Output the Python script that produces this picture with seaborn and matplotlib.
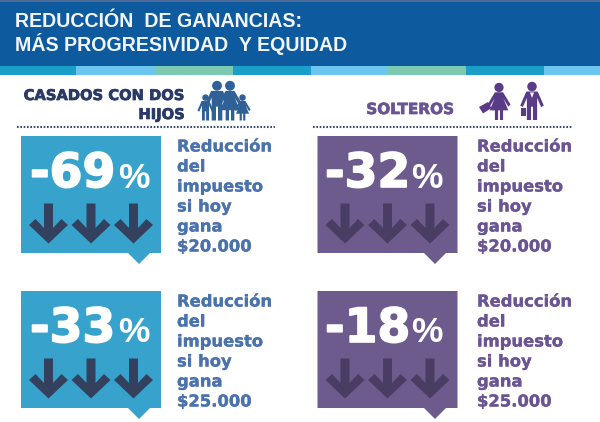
import numpy as np
import pandas as pd
import matplotlib
matplotlib.use("Agg")
import matplotlib.pyplot as plt
import matplotlib.patheffects as pe
import seaborn as sb
from matplotlib.path import Path
from matplotlib.patches import Polygon, Circle, Rectangle

# chart values
groups = ["CASADOS CON DOS\nHIJOS", "SOLTEROS"]
reductions_casados = [-69, -33]
reductions_solteros = [-32, -18]
incomes = ["$20.000", "$25.000"]
title_lines = ["REDUCCIÓN  DE GANANCIAS:", "MÁS PROGRESIVIDAD  Y EQUIDAD"]
desc_lines = ["Reducción", "del", "impuesto", "si hoy", "gana"]

HEADER = "#0d5a9f"
STRIPES = ["#1b9fc8", "#6cc5ee", "#7cc9b2"]
BLUE_CARD = "#37a3cc"
BLUE_ARROW = "#33415f"
BLUE_TEXT = "#4a72ad"
BLUE_ICON = "#2f6197"
PURPLE_CARD = "#6c5b8c"
PURPLE_ARROW = "#4a3d63"
PURPLE_TEXT = "#6b5493"
PURPLE_ICON = "#5a3c86"
DARK = "#2a3a66"

sb.set_theme(style="white")
fig = plt.figure(figsize=(6, 4.22), dpi=100)
ax = fig.add_axes([0, 0, 1, 1])
ax.set_xlim(0, 600)
ax.set_ylim(422, 0)
ax.axis("off")

TITLE_FONT = "Liberation Sans"
WIDE_FONT = "DejaVu Sans"


def heavy(color, width=0.5):
    return [pe.withStroke(linewidth=width, foreground=color)]


# header band and the coloured stripe under it
ax.add_patch(Rectangle((0, 0), 600, 67, color=HEADER, lw=0))
ax.add_patch(Rectangle((0, 0), 600, 2, color="#4c6b96", lw=0))
edges = [0, 76, 155, 233, 311, 388, 466, 544, 600]
for i in range(len(edges) - 1):
    ax.add_patch(Rectangle((edges[i], 66), edges[i + 1] - edges[i], 9, color=STRIPES[i % 3], lw=0))
for i, line in enumerate(title_lines):
    ax.text(15, 27 + i * 24, line, color="#f2f6fa", fontsize=14.1, family=TITLE_FONT,
            fontweight="bold", va="baseline")

# group headings
first, second = groups[0].split("\n")
ax.text(185, 100, first, color=DARK, fontsize=10.6, family=WIDE_FONT, fontweight="bold",
        ha="right", va="baseline", path_effects=heavy(DARK))
ax.text(185, 119, second, color=DARK, fontsize=10.6, family=WIDE_FONT, fontweight="bold",
        ha="right", va="baseline", path_effects=heavy(DARK))
ax.text(454, 114, groups[1], color=PURPLE_TEXT, fontsize=11, family=WIDE_FONT, fontweight="bold",
        ha="right", va="baseline", path_effects=heavy(PURPLE_TEXT))
ax.plot([17, 275], [127, 127], color="#3b4a6e", lw=1.5, ls=(0, (0.8, 0.8)))
ax.plot([313, 572], [127, 127], color="#3b4a6e", lw=1.5, ls=(0, (0.8, 0.8)))


# icons
def person(cx, top, h, color, dress=False):
    w = h * 0.5
    ax.add_patch(Circle((cx, top + h * 0.12), h * 0.125, color=color, lw=0))
    if dress:
        pts = [(cx - w * 0.22, top + h * 0.25), (cx + w * 0.22, top + h * 0.25),
               (cx + w * 0.62, top + h * 0.58), (cx + w * 0.5, top + h * 0.64),
               (cx + w * 0.24, top + h * 0.42), (cx + w * 0.5, top + h * 0.74),
               (cx + w * 0.22, top + h * 0.74), (cx + w * 0.22, top + h),
               (cx + w * 0.05, top + h), (cx + w * 0.05, top + h * 0.74),
               (cx - w * 0.05, top + h * 0.74), (cx - w * 0.05, top + h),
               (cx - w * 0.22, top + h), (cx - w * 0.22, top + h * 0.74),
               (cx - w * 0.5, top + h * 0.74), (cx - w * 0.24, top + h * 0.42),
               (cx - w * 0.5, top + h * 0.64), (cx - w * 0.62, top + h * 0.58)]
    else:
        pts = [(cx - w * 0.3, top + h * 0.25), (cx + w * 0.3, top + h * 0.25),
               (cx + w * 0.62, top + h * 0.62), (cx + w * 0.48, top + h * 0.66),
               (cx + w * 0.27, top + h * 0.42), (cx + w * 0.27, top + h),
               (cx + w * 0.05, top + h), (cx + w * 0.05, top + h * 0.65),
               (cx - w * 0.05, top + h * 0.65), (cx - w * 0.05, top + h),
               (cx - w * 0.27, top + h), (cx - w * 0.27, top + h * 0.42),
               (cx - w * 0.48, top + h * 0.66), (cx - w * 0.62, top + h * 0.62)]
    ax.add_patch(Polygon(pts, closed=True, color=color, lw=0))


person(205.5, 94.5, 26, BLUE_ICON)
person(217, 81, 39.5, BLUE_ICON)
person(230, 81, 39.5, BLUE_ICON, dress=True)
person(242.5, 94.5, 26, BLUE_ICON, dress=True)

person(499, 83, 37, PURPLE_ICON, dress=True)
person(532, 82, 38, PURPLE_ICON)
# briefcases and the man's collar
ax.add_patch(Polygon([(479, 107), (488, 102), (491.5, 108), (483, 113.5)], closed=True, color=PURPLE_ICON, lw=0))
ax.add_patch(Rectangle((520.5, 108), 5.5, 8, color=PURPLE_ICON, lw=0))
ax.add_patch(Polygon([(530, 92.5), (534, 92.5), (532, 98)], closed=True, color="white", lw=0))

# down arrow as a scatter marker, shape centred on 0,0 (y is up for markers)
arrow_marker = Path([(-4.5, 20), (4.5, 20), (4.5, -4.5), (13, 4.5), (19.5, -1.5), (0, -20), (-19.5, -1.5), (-13, 4.5),
                     (-4.5, -4.5), (-4.5, 20)], closed=True)
arrow_rows = []

cards = [
    (21, 136, reductions_casados[0], incomes[0], BLUE_CARD, BLUE_ARROW, BLUE_TEXT, 139, 177, 30, 118),
    (21, 291, reductions_casados[1], incomes[1], BLUE_CARD, BLUE_ARROW, BLUE_TEXT, 139, 177, 30, 118),
    (317.5, 136, reductions_solteros[0], incomes[0], PURPLE_CARD, PURPLE_ARROW, PURPLE_TEXT, 435, 477, 325, 411),
    (317.5, 291, reductions_solteros[1], incomes[1], PURPLE_CARD, PURPLE_ARROW, PURPLE_TEXT, 435, 477, 325, 411),
]

for left, top, value, income, card, arrow, text, tip, text_x, num_x, pct_x in cards:
    right = left + 140
    bottom = top + 117
    ax.add_patch(Polygon([(left, top), (right, top), (right, bottom), (tip + 11, bottom), (tip, bottom + 11),
                          (tip - 11, bottom), (left, bottom)], closed=True, color=card, lw=0))
    ax.text(num_x, top + 51, str(value), color="white", fontsize=34, family=WIDE_FONT, fontweight="bold",
            va="baseline", ha="left", path_effects=heavy("white", 1.2))
    ax.text(pct_x, top + 51.5, "%", color="white", fontsize=25.5, family=TITLE_FONT, fontweight="bold",
            va="baseline", ha="left")
    for i, line in enumerate(desc_lines + [income]):
        ax.text(text_x, top + 9.5 + i * 20, line, color=text, fontsize=11.8, family=WIDE_FONT, fontweight="bold",
                va="center_baseline", ha="left", path_effects=heavy(text, 0.2))
    for dx in [27.5, 70, 112.5]:
        arrow_rows.append({"x": left + dx, "y": top + 87.5, "color": arrow})

arrows = pd.DataFrame(arrow_rows)
# marker path is scaled to its largest coordinate: 20 data px -> full size 40 px = 28.8 pt
sb.scatterplot(data=arrows, x="x", y="y", hue="color", palette={BLUE_ARROW: BLUE_ARROW, PURPLE_ARROW: PURPLE_ARROW},
               marker=arrow_marker, s=28.8 ** 2, linewidth=0, legend=False, ax=ax)

ax.set_xlim(0, 600)
ax.set_ylim(422, 0)
ax.axis("off")
fig.savefig("out.png", dpi=100)
